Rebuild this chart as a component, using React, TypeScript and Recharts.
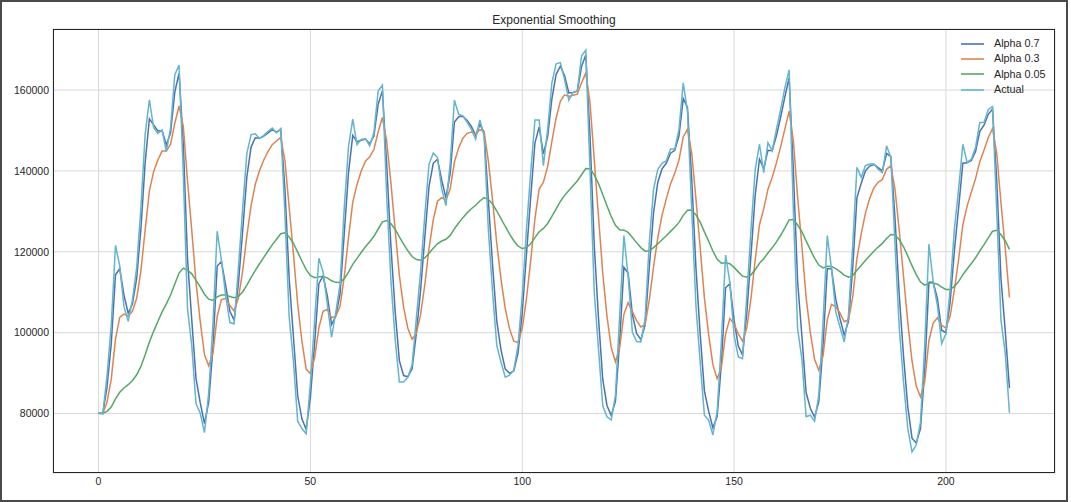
import React from 'react';
import { LineChart, Line, XAxis, YAxis, CartesianGrid, Legend } from 'recharts';

const xTicks = [0, 50, 100, 150, 200];
const yTicks = [80000, 100000, 120000, 140000, 160000];

const actual = [
  80100, 79900, 89300, 101900, 121600, 116500, 106500, 102800, 108100, 116100,
  131000, 149000, 157600, 150700, 149300, 150100, 144800, 150700, 163800, 166200,
  139500, 105900, 96800, 82500, 80100, 75300, 85100, 102100, 125100, 118000,
  109200, 102500, 102200, 115800, 130500, 144300, 149000, 149200, 148000, 148800,
  149800, 150600, 149400, 150500, 129100, 103800, 92900, 78100, 76300, 75000,
  87400, 103000, 118400, 115000, 107000, 98900, 105000, 112000, 131000, 146000,
  152800, 146500, 147800, 148000, 146200, 149500, 159800, 161200, 134000, 113000,
  98500, 87800, 87800, 89000, 92000, 103400, 115000, 129000, 141700, 144400,
  143300, 135500, 131400, 142000, 157500, 154000, 153600, 152000, 150300, 147800,
  152600, 148700, 125600, 110000, 96800, 92700, 89000, 89500, 90700, 96800,
  109000, 125600, 139600, 152600, 152600, 141300, 150300, 161800, 166500, 166800,
  162600, 157500, 159400, 159800, 168400, 169900, 140000, 110000, 96000, 82000,
  79200, 78400, 84500, 104300, 124000, 114000, 100100, 97800, 97700, 103400,
  122400, 135500, 140400, 141900, 142500, 145400, 145400, 150300, 161800, 154800,
  130600, 106700, 92700, 79600, 78400, 74700, 80400, 97700, 119200, 112500,
  99300, 94000, 93600, 109000, 125600, 140400, 146600, 139600, 147000, 145000,
  150300, 155200, 160600, 165000, 130000, 101000, 93600, 79200, 79600, 78100,
  84500, 102600, 124000, 115800, 105100, 101400, 97700, 104300, 121500, 140900,
  138400, 141300, 141700, 141700, 140400, 139600, 146200, 143300, 121500, 101000,
  87800, 76300, 70500, 72200, 77900, 96900, 121900, 112500, 106700, 97300,
  99700, 110800, 125600, 135500, 146600, 142100, 142900, 145800, 152000, 152000,
  155200, 155900, 130000, 103000, 95000, 80200,
];

const alpha07 = [
  80100, 80000, 86500, 97300, 114300, 115800, 109300, 104800, 107100, 113400,
  125700, 142000, 152900, 151400, 149900, 150000, 146400, 149400, 159500, 164200,
  146900, 118200, 103200, 88700, 82700, 77500, 82800, 96300, 116500, 117600,
  111700, 105300, 103100, 112000, 125000, 138500, 145900, 148200, 148100, 148600,
  149400, 150200, 149600, 150200, 135400, 113300, 99000, 84400, 78700, 76100,
  84000, 97300, 112100, 114100, 109100, 102000, 104100, 109600, 124600, 139600,
  148800, 147200, 147600, 147900, 146700, 148700, 156500, 159800, 141700, 121600,
  105400, 93100, 89400, 89100, 91100, 99700, 110400, 123400, 136200, 141900,
  142900, 137700, 133300, 139400, 152100, 153400, 153500, 152500, 151000, 148800,
  151500, 149500, 132800, 116800, 102800, 95700, 91000, 90000, 90500, 94900,
  104800, 119400, 133500, 146900, 150900, 144200, 148500, 157800, 163900, 165900,
  163600, 159300, 159400, 159700, 165800, 168700, 148600, 121600, 103700, 88500,
  82000, 79500, 83000, 97900, 116200, 114700, 104500, 99800, 98300, 101900,
  116300, 129700, 137200, 140500, 141900, 144400, 145100, 148700, 157900, 155700,
  138100, 116100, 99700, 85600, 80600, 76500, 79200, 92200, 111100, 112100,
  103100, 96700, 94500, 104700, 119300, 134100, 142900, 140600, 145100, 145000,
  148700, 153300, 158400, 163000, 139900, 112700, 99300, 85200, 81300, 79100,
  82900, 96700, 115800, 115800, 108300, 103500, 99400, 102800, 115900, 133400,
  136900, 140000, 141200, 141600, 140800, 140000, 144300, 143600, 128100, 109100,
  94200, 81700, 73900, 72700, 76300, 90700, 112500, 112500, 108400, 100600,
  100000, 107600, 120200, 130900, 141900, 142000, 142600, 144800, 149800, 151300,
  154000, 155300, 137600, 113400, 100500, 86300,
];

const alpha03 = [
  80100, 80000, 82800, 88500, 98400, 103800, 104600, 104100, 105300, 108500,
  115300, 125400, 135100, 139800, 142700, 144900, 144900, 146600, 151800, 156100,
  151100, 137500, 125300, 112500, 102800, 94600, 91800, 94900, 104000, 108200,
  108500, 106700, 105400, 108500, 115100, 123900, 131400, 136700, 140100, 142700,
  144800, 146500, 147400, 148300, 142500, 130900, 119500, 107100, 97900, 91000,
  89900, 93800, 101200, 105300, 105800, 103700, 104100, 106500, 113900, 123500,
  132300, 136600, 140000, 142400, 143500, 145300, 149700, 153200, 147400, 137100,
  125500, 114200, 106300, 101100, 98400, 99900, 104400, 111800, 120800, 127900,
  132500, 133400, 132800, 135600, 142200, 145700, 148100, 149300, 149600, 149100,
  150200, 149800, 142500, 132800, 122000, 113200, 105900, 101000, 97900, 97600,
  101000, 108400, 117800, 128200, 135500, 137200, 141100, 147300, 153100, 157200,
  158800, 158400, 158700, 159000, 161800, 164200, 156900, 142800, 128800, 114800,
  104100, 96400, 92800, 96300, 104600, 107400, 105200, 103000, 101400, 102000,
  108100, 116300, 123500, 129000, 133100, 136800, 139400, 142700, 148400, 150300,
  144400, 133100, 121000, 108600, 99500, 92100, 88600, 91300, 99700, 103500,
  102200, 99700, 97900, 101200, 108500, 118100, 126700, 130600, 135500, 138400,
  142000, 146000, 150400, 154800, 147400, 133500, 121500, 108800, 100000, 93400,
  90700, 94300, 103200, 107000, 106400, 104900, 102700, 103200, 108700, 118400,
  124400, 129500, 133200, 135800, 137200, 137900, 140400, 141300, 135400, 125100,
  113900, 102600, 93000, 86800, 84100, 87900, 98100, 102400, 103700, 101800,
  101200, 104100, 110600, 118100, 126700, 131300, 134800, 138100, 142300, 145200,
  148200, 150500, 144400, 132000, 120900, 108700,
];

const alpha005 = [
  80100, 80090, 80550, 81620, 83620, 85260, 86320, 87140, 88190, 89590,
  91660, 94530, 97680, 100330, 102780, 105150, 107130, 109310, 112030, 114740,
  115980, 115480, 114550, 112950, 111310, 109510, 108290, 107980, 108840, 109300,
  109300, 108960, 108620, 108980, 110060, 111770, 113630, 115410, 117040, 118630,
  120190, 121710, 123090, 124460, 124690, 123650, 122110, 119910, 117730, 115590,
  114180, 113620, 113860, 113920, 113570, 112840, 112450, 112430, 113360, 114990,
  116880, 118360, 119830, 121240, 122490, 123840, 125640, 127420, 127750, 127010,
  125580, 123690, 121900, 120250, 118840, 118070, 117920, 118470, 119630, 120870,
  121990, 122670, 123110, 124050, 125720, 127130, 128450, 129630, 130660, 131520,
  132570, 133380, 132990, 131840, 130090, 128220, 126260, 124420, 122730, 121430,
  120810, 121050, 121980, 123510, 124960, 125780, 127010, 128750, 130640, 132450,
  133960, 135140, 136350, 137520, 139060, 140600, 140570, 139040, 136890, 134150,
  131400, 128750, 126540, 125430, 125360, 124790, 123560, 122270, 121040, 120160,
  120270, 121030, 122000, 123000, 123980, 125050, 126070, 127280, 129010, 130300,
  130320, 129140, 127320, 124930, 122600, 120200, 118210, 117180, 117280, 117040,
  116150, 115040, 113970, 113720, 114310, 115610, 117160, 118280, 119720, 120980,
  122450, 124090, 125920, 127870, 127980, 126630, 124980, 122690, 120540, 118420,
  116720, 116010, 116410, 116380, 115820, 115100, 114230, 113730, 114120, 115460,
  116610, 117840, 119030, 120160, 121170, 122090, 123300, 124300, 124160, 123000,
  121240, 118990, 116570, 114350, 112530, 111750, 112260, 112270, 111990, 111260,
  110680, 110690, 111440, 112640, 114340, 115730, 117090, 118530, 120200, 121790,
  123460, 125080, 125330, 124210, 122750, 120620,
];

const seriesNames = ['Alpha 0.7', 'Alpha 0.3', 'Alpha 0.05', 'Actual'];
const seriesColors = ['#4C72B0', '#DD8452', '#55A868', '#64B5CD'];

const FONT = '"Liberation Sans", Arial, Helvetica, sans-serif';
const TEXT = '#262626';

const W = 1071;
const H = 502;

function LegendBox(props: any) {
  const payload = [...(props.payload || [])].sort(
    (a: any, b: any) => seriesNames.indexOf(a.value) - seriesNames.indexOf(b.value)
  );
  return (
    <div style={{ fontFamily: FONT, fontSize: 10.8, color: TEXT }}>
      {payload.map((p: any) => (
        <div key={p.value} style={{ display: 'flex', alignItems: 'center', height: 15.3 }}>
          <svg width={24} height={4} style={{ marginRight: 9 }}>
            <line x1={0} y1={2} x2={23} y2={2} stroke={p.color} strokeWidth={1.6} />
          </svg>
          <span style={{ lineHeight: '15px' }}>{p.value}</span>
        </div>
      ))}
    </div>
  );
}

export default function App() {
  const data = actual.map((v, i) => ({
    x: i,
    a07: alpha07[i],
    a03: alpha03[i],
    a005: alpha005[i],
    actual: v,
  }));

  return (
    <div
      style={{
        position: 'absolute',
        left: 0,
        top: 0,
        width: W,
        height: H,
        background: '#ffffff',
        fontFamily: FONT,
        overflow: 'hidden',
      }}
    >
      <LineChart width={W} height={H} data={data} margin={{ top: 29, right: 16, bottom: 0, left: 0 }}>
        <CartesianGrid stroke="#d9d9d9" strokeWidth={1} />
        <XAxis
          type="number"
          dataKey="x"
          domain={[-10.75, 225.75]}
          ticks={xTicks}
          allowDataOverflow
          height={29}
          axisLine={false}
          tickLine={false}
          tickSize={0}
          tickMargin={5}
          tick={{ fill: TEXT, fontSize: 10.5, fontFamily: FONT }}
        />
        <YAxis
          type="number"
          domain={[65300, 175100]}
          ticks={yTicks}
          allowDataOverflow
          width={53}
          axisLine={false}
          tickLine={false}
          tickSize={0}
          tickMargin={4}
          tick={{ fill: TEXT, fontSize: 10.5, fontFamily: FONT }}
        />
        <Line type="linear" dataKey="a07" name={seriesNames[0]} stroke={seriesColors[0]} strokeWidth={1.5} dot={false} isAnimationActive={false} />
        <Line type="linear" dataKey="a03" name={seriesNames[1]} stroke={seriesColors[1]} strokeWidth={1.5} dot={false} isAnimationActive={false} />
        <Line type="linear" dataKey="a005" name={seriesNames[2]} stroke={seriesColors[2]} strokeWidth={1.5} dot={false} isAnimationActive={false} />
        <Line type="linear" dataKey="actual" name={seriesNames[3]} stroke={seriesColors[3]} strokeWidth={1.5} dot={false} isAnimationActive={false} />
        <Legend
          layout="vertical"
          align="center"
          verticalAlign="middle"
          content={<LegendBox />}
          wrapperStyle={{ position: 'absolute', left: 961, top: 36, width: 95, height: 64 }}
        />
      </LineChart>
      <div
        style={{
          position: 'absolute',
          left: 53,
          top: 29,
          width: 1002,
          height: 444,
          boxSizing: 'border-box',
          border: '1.3px solid #262626',
          pointerEvents: 'none',
        }}
      />
      <div
        style={{
          position: 'absolute',
          left: 53,
          width: 1002,
          top: 12,
          lineHeight: '16px',
          textAlign: 'center',
          fontSize: 12,
          color: TEXT,
        }}
      >
        Exponential Smoothing
      </div>
      <div
        style={{
          position: 'absolute',
          left: 0,
          top: 0,
          width: 1068,
          height: H,
          boxSizing: 'border-box',
          border: '2px solid #4a4a4a',
          pointerEvents: 'none',
        }}
      />
    </div>
  );
}
